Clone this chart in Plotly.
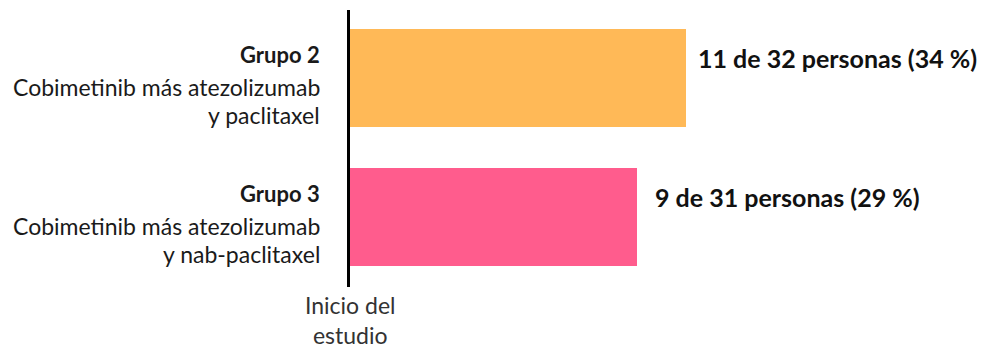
import plotly.graph_objects as go

groups = ["Grupo 2", "Grupo 3"]
treatments_line1 = ["Cobimetinib más atezolizumab", "Cobimetinib más atezolizumab"]
treatments_line2 = ["y paclitaxel", "y nab-paclitaxel"]
percent = [34, 29]
responders = [11, 9]
totals = [32, 31]
colors = ["#FFB957", "#FF5C8D"]
axis_label_lines = ["Inicio del", "estudio"]

FONT = "Lato"
ypos = [1, 0]

fig = go.Figure()
fig.add_trace(go.Bar(
    x=percent, y=ypos, orientation="h", width=0.705,
    marker=dict(color=colors, line=dict(width=0)),
    hoverinfo="skip", showlegend=False,
))

ann = []
for i in range(len(groups)):
    y = ypos[i]
    ann.append(dict(x=0, y=y, xref="x", yref="y", text="<b>%s</b>" % groups[i],
                    xanchor="right", yanchor="middle", xshift=-28, yshift=23, showarrow=False,
                    font=dict(family=FONT, size=22, color="#1a1a1a")))
    ann.append(dict(x=0, y=y, xref="x", yref="y", text=treatments_line1[i],
                    xanchor="right", yanchor="middle", xshift=-28, yshift=-9, showarrow=False,
                    font=dict(family=FONT, size=23, color="#1a1a1a")))
    ann.append(dict(x=0, y=y, xref="x", yref="y", text=treatments_line2[i],
                    xanchor="right", yanchor="middle", xshift=-28, yshift=-37, showarrow=False,
                    font=dict(family=FONT, size=23, color="#1a1a1a")))
    ann.append(dict(x=percent[i], y=y, xref="x", yref="y",
                    text="<b>%d de %d personas (%d %%)</b>" % (responders[i], totals[i], percent[i]),
                    xanchor="left", yanchor="middle", xshift=10 if i == 0 else 16, yshift=20,
                    showarrow=False, font=dict(family=FONT, size=25, color="#111")))

ann.append(dict(x=0, y=0, xref="x", yref="paper", text="<br>".join(axis_label_lines),
                xanchor="center", yanchor="top", yshift=-2, showarrow=False, align="center",
                font=dict(family=FONT, size=23, color="#333")))

fig.update_layout(
    width=980, height=341,
    margin=dict(l=342, r=5, t=2, b=62),
    plot_bgcolor="white", paper_bgcolor="white",
    xaxis=dict(range=[0, 64], visible=False, fixedrange=True),
    yaxis=dict(range=[-0.504, 1.489], showticklabels=False, showgrid=False, zeroline=False,
               showline=True, linecolor="black", linewidth=3, ticks=""),
    annotations=ann,
    bargap=0,
)
fig.write_html("out.html")
